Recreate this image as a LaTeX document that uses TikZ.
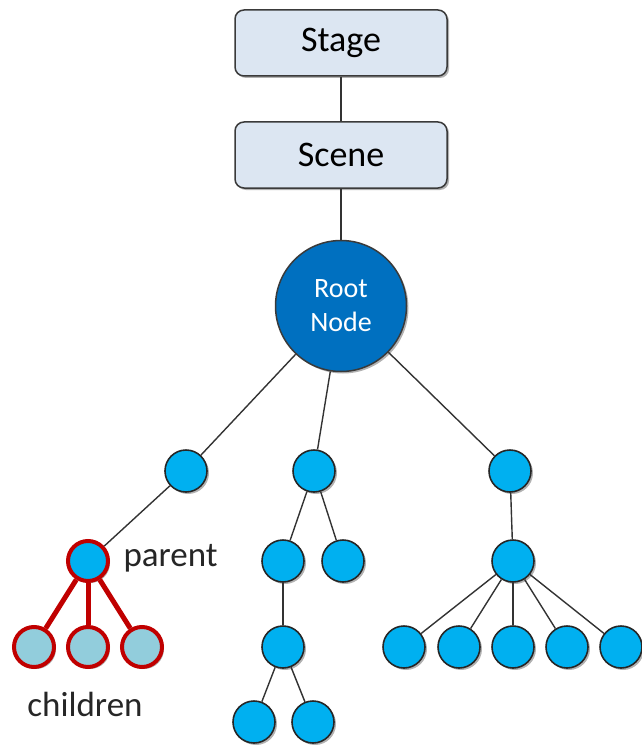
\documentclass[tikz,border=0pt]{standalone}
\usepackage{fontspec}
\setmainfont{Carlito}
\usetikzlibrary{shadows}
\definecolor{boxfill}{HTML}{DCE6F2}
\definecolor{boxline}{HTML}{3A3A3A}
\definecolor{rootblue}{HTML}{0070C0}
\definecolor{nodeblue}{HTML}{00B0F0}
\definecolor{childblue}{HTML}{92CDDC}
\definecolor{darkred}{HTML}{C00000}
\definecolor{edgegray}{HTML}{333333}
\tikzset{
  softshadow/.style={drop shadow={shadow xshift=2pt, shadow yshift=-2pt, opacity=0.3, fill=black}},
  stagebox/.style={draw=boxline, line width=1.5pt, fill=boxfill, rounded corners=9pt,
    minimum width=212pt, minimum height=66pt, font=\fontsize{36}{42}\selectfont, softshadow},
  rootnode/.style={circle, draw=boxline, line width=1.5pt, fill=rootblue, minimum size=131pt,
    text=white, align=center, font=\fontsize{28}{34}\selectfont, inner sep=0pt, softshadow},
  leaf/.style={circle, draw=black!85, line width=1.6pt, fill=nodeblue, minimum size=42pt,
    inner sep=0pt, softshadow},
  redparent/.style={leaf, draw=darkred, line width=4pt, minimum size=40pt},
  redchild/.style={leaf, draw=darkred, line width=4pt, fill=childblue, minimum size=40pt},
  edge/.style={draw=edgegray, line width=1.4pt},
  rededge/.style={draw=darkred, line width=5pt},
  label/.style={font=\fontsize{35}{40}\selectfont, text=black!85}
}
\begin{document}
\begin{tikzpicture}[x=1pt, y=-1pt]
\useasboundingbox (0,0) rectangle (642,749);

% top boxes and root
\node[stagebox] (stage) at (341,43) {Stage};
\node[stagebox] (scene) at (341,155) {Scene};
\node[rootnode] (root) at (341,306) {Root\\Node};

% first level
\node[leaf] (a) at (186,471) {};
\node[leaf] (b) at (314,471) {};
\node[leaf] (c) at (510,471) {};

% left branch: parent with children
\node[redparent] (p) at (88,561) {};
\node[redchild] (p1) at (34,647) {};
\node[redchild] (p2) at (88,647) {};
\node[redchild] (p3) at (142,647) {};
\node[label, anchor=west] (ptext) at (120,558) {parent};
\node[label] (ctext) at (85,704) {children};

% middle branch
\node[leaf] (b1) at (283,561) {};
\node[leaf] (b2) at (343,561) {};
\node[leaf] (b11) at (283,647) {};
\node[leaf] (b111) at (254,722) {};
\node[leaf] (b112) at (313,722) {};

% right branch
\node[leaf] (c1) at (513,561) {};
\node[leaf] (c11) at (404,647) {};
\node[leaf] (c12) at (459,647) {};
\node[leaf] (c13) at (513,647) {};
\node[leaf] (c14) at (567,647) {};
\node[leaf] (c15) at (621,647) {};

% connectors
\draw[edge] (stage) -- (scene);
\draw[edge] (scene) -- (root);
\draw[edge] (root) -- (a);
\draw[edge] (root) -- (b);
\draw[edge] (root) -- (c);
\draw[edge] (a) -- (p);
\draw[rededge] (p) -- (p1);
\draw[rededge] (p) -- (p2);
\draw[rededge] (p) -- (p3);
\draw[edge] (b) -- (b1);
\draw[edge] (b) -- (b2);
\draw[edge] (b1) -- (b11);
\draw[edge] (b11) -- (b111);
\draw[edge] (b11) -- (b112);
\draw[edge] (c) -- (c1);
\foreach \k in {c11,c12,c13,c14,c15} \draw[edge] (c1) -- (\k);
\end{tikzpicture}
\end{document}
